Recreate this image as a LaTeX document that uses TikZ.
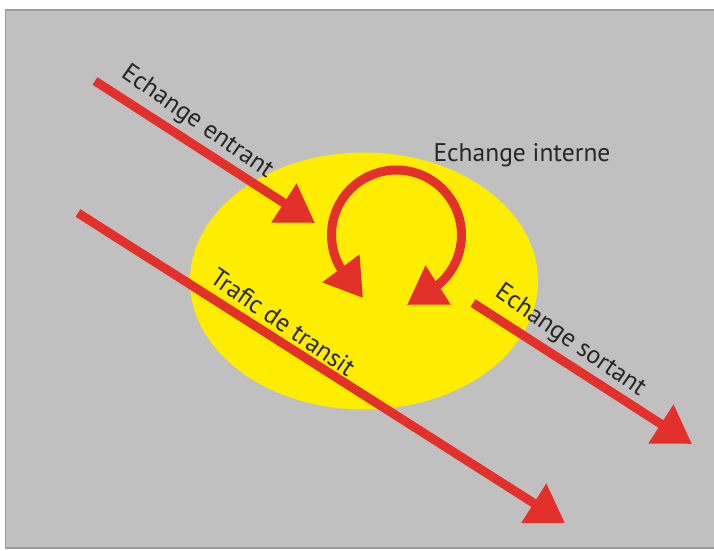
\documentclass[tikz,border=0pt]{standalone}
\usepackage{fontspec}
\setmainfont{PT Sans}
\usetikzlibrary{arrows.meta, positioning, shapes.geometric}
\definecolor{fond}{RGB}{192,192,192}
\definecolor{bord}{RGB}{155,155,155}
\definecolor{jaune}{RGB}{255,237,0}
\definecolor{rouge}{RGB}{228,48,42}

\begin{document}
\begin{tikzpicture}[x=1pt, y=1pt,
    flux/.style={draw=rouge, line width=9pt, -{Triangle[length=37pt, width=44pt]}},
    etiq/.style={font=\fontsize{25.5}{28}\selectfont, text=black!85, sloped, above=1pt, rotate=-2}]
    \useasboundingbox (0,0) rectangle (714,550);
    \fill[white] (0,0) rectangle (714,550);
    \draw[fill=fond, draw=bord, line width=1.5pt] (5.5,2) rectangle (716,540);
    \node[ellipse, fill=jaune, inner sep=0pt, minimum width=348pt, minimum height=257pt] (zone) at (364,269) {};

    \coordinate (ein_a) at (95,469);
    \coordinate (ein_b) at (315,327);
    \coordinate (tra_a) at (78,337);
    \coordinate (tra_b) at (565,27);
    \coordinate (sor_a) at (473,247);
    \coordinate (sor_b) at (692,106);
    \coordinate (boucle) at (396.5,315);
    \coordinate (int_a) at (363,252);
    \coordinate (int_b) at (407,245);

    \draw[flux] (ein_a) -- node[etiq, pos=0.41] (l_ein) {Echange entrant} (ein_b);
    \draw[flux] (tra_a) -- node[etiq, pos=0.40] (l_tra) {Trafic de transit} (tra_b);
    \draw[flux] (sor_a) -- node[etiq, pos=0.39] (l_sor) {Echange sortant} (sor_b);
    \draw[flux, {Triangle[length=37pt, width=44pt]}-{Triangle[length=37pt, width=44pt]}]
        (int_a) -- ([shift={(210:65)}]boucle) arc[start angle=210, end angle=-50, radius=65] -- (int_b);
    \node[anchor=base west, font=\fontsize{25.5}{28}\selectfont, text=black!85] (l_int) at (430,389) {Echange interne};
\end{tikzpicture}
\end{document}
